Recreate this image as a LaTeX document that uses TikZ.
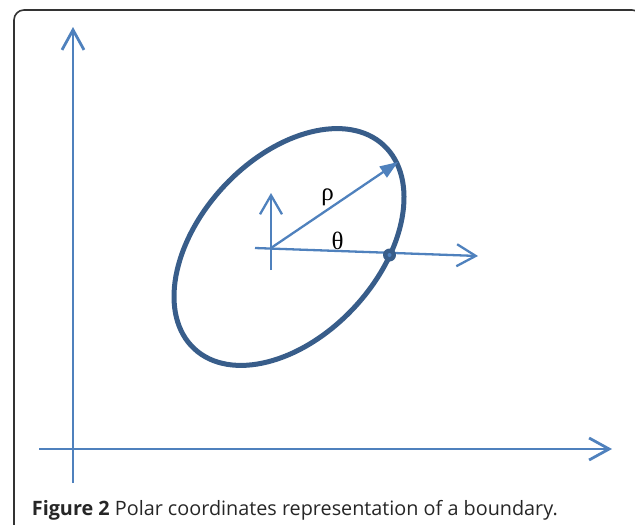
\documentclass[tikz,border=0pt]{standalone}
\usepackage{fontspec}
\usepackage{xcolor}
\usetikzlibrary{arrows.meta}

\newfontfamily\captionfont{Open Sans}
\newfontfamily\greekfont{Liberation Serif}

\definecolor{axisblue}{HTML}{4F81BD}
\definecolor{boundblue}{HTML}{385D8A}
\definecolor{framegray}{HTML}{333333}

\begin{document}
\begin{tikzpicture}[x=1pt, y=-1pt,
    axis/.style={axisblue, line width=2.8pt,
        -{Straight Barb[length=20pt, width=22pt, line width=2.8pt]}},
    localaxis/.style={axisblue, line width=2.3pt,
        -{Straight Barb[length=19pt, width=22pt, line width=2.3pt]}},
    radius/.style={axisblue, line width=2.3pt,
        -{Triangle[length=18pt, width=13pt]}},
    greek/.style={font=\greekfont\fontsize{25}{29}\selectfont, inner sep=0pt}]

\useasboundingbox (0,0) rectangle (635,525);

% Ellipse (boundary) parameters
\def\phi{47}
\def\rx{139}
\def\ry{89}

% Frame
\begin{scope}
    \clip (0,0) rectangle (635,525);
    \draw[framegray, line width=1.6pt, rounded corners=10pt]
        (14,10) rectangle (642,548);
\end{scope}

% Global axes
\coordinate (xstart) at (39,449);
\coordinate (xend) at (612,449);
\coordinate (ystart) at (73,483);
\coordinate (yend) at (73,27);
\draw[axis] (xstart) -- (xend);
\draw[axis] (ystart) -- (yend);

% Boundary
\coordinate (c) at (289,247);
\draw[boundblue, line width=5pt, rotate around={\phi:(c)}]
    (c) ellipse [x radius=\rx, y radius=\ry];

% Local axes at the centroid
\coordinate (o) at (271,248);
\coordinate (ubot) at (271,270);
\coordinate (utop) at (271,193);
\coordinate (hstart) at (255,248);
\coordinate (hend) at (478,256);
\draw[localaxis] (ubot) -- (utop);
\draw[localaxis] (hstart) -- (hend);

% Radius vector rho
\coordinate (r) at (398,162);
\draw[radius] (o) -- (r);

% Boundary point
\coordinate (p) at (389.5,255);
\fill[boundblue] (p) circle (6.5pt);
\fill[axisblue] (p) circle (2pt);

% Labels
\node[greek] (rho) at (327.5,197.5) {ρ};
\node[greek] (theta) at (337.5,241) {θ};

% Caption
\node[anchor=base west, inner sep=0pt, text=black!85]
    (caption) at (31.7,515)
    {\captionfont\fontsize{19.8}{23}\selectfont
     \textbf{Figure 2} Polar coordinates representation of a boundary.};

\end{tikzpicture}
\end{document}
